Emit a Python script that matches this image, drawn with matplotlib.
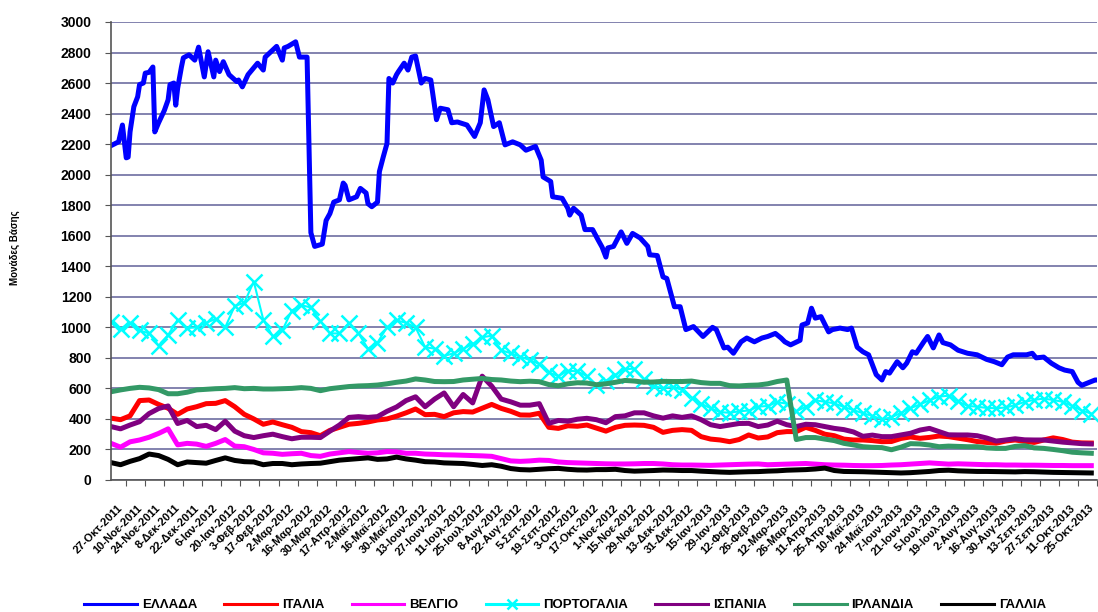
import numpy as np
import matplotlib
matplotlib.use("Agg")
import matplotlib.pyplot as plt
import matplotlib.transforms as mtransforms

plt.rcParams['font.family'] = ['Liberation Sans Narrow', 'Liberation Sans', 'DejaVu Sans']

# x tick labels (every 10th business day)
tick_labels = [
    "27-Οκτ-2011", "10-Νοε-2011", "24-Νοε-2011", "8-Δεκ-2011", "22-Δεκ-2011",
    "6-Ιαν-2012", "20-Ιαν-2012", "3-Φεβ-2012", "17-Φεβ-2012", "2-Μαρ-2012",
    "16-Μαρ-2012", "30-Μαρ-2012", "17-Απρ-2012", "2-Μαϊ-2012", "16-Μαϊ-2012",
    "30-Μαϊ-2012", "13-Ιουν-2012", "27-Ιουν-2012", "11-Ιουλ-2012", "25-Ιουλ-2012",
    "8-Αυγ-2012", "22-Αυγ-2012", "5-Σεπ-2012", "19-Σεπ-2012", "3-Οκτ-2012",
    "17-Οκτ-2012", "1-Νοε-2012", "15-Νοε-2012", "29-Νοε-2012", "13-Δεκ-2012",
    "31-Δεκ-2012", "15-Ιαν-2013", "29-Ιαν-2013", "12-Φεβ-2013", "26-Φεβ-2013",
    "12-Μαρ-2013", "26-Μαρ-2013", "11-Απρ-2013", "25-Απρ-2013", "10-Μαϊ-2013",
    "24-Μαϊ-2013", "7-Ιουν-2013", "21-Ιουν-2013", "5-Ιουλ-2013", "19-Ιουλ-2013",
    "2-Αυγ-2013", "16-Αυγ-2013", "30-Αυγ-2013", "13-Σεπ-2013", "27-Σεπ-2013",
    "11-Οκτ-2013", "25-Οκτ-2013",
]
first_label_day = 8

# weekly samples (business-day index) for most series
days = np.arange(0, 516, 5)

# Greece: read at its turning points
gr_days = [0, 4, 6, 8, 9, 10, 12, 14, 15, 17, 18, 20, 22, 23, 25, 28, 30, 31, 33, 34,
           35, 37, 38, 41, 44, 46, 49, 51, 54, 55, 57, 59, 62, 66, 67, 69, 72, 77, 80, 81,
           84, 87, 90, 91, 93, 97, 99, 103, 105, 107, 111, 113, 115, 117, 120, 122, 123, 125,
           129, 131, 134, 135, 137, 140, 141, 143, 145, 146, 148, 150, 151, 154, 156, 158,
           160, 163, 165, 168, 171, 173, 177, 179, 182, 187, 191, 194, 196, 198, 201, 204,
           207, 211, 215, 218, 223, 226, 227, 231, 232, 237, 240, 241, 243, 247, 249, 253,
           256, 258, 260, 261, 264, 268, 271, 274, 278, 282, 283, 287, 290, 292, 295, 296,
           299, 302, 306, 311, 316, 318, 322, 324, 327, 331, 334, 338, 342, 345, 349, 352,
           354, 357, 362, 363, 366, 368, 370, 373, 377, 379, 383, 387, 389, 392, 395, 398,
           400, 402, 405, 407, 409, 413, 416, 418, 421, 423, 427, 429, 432, 435, 437, 441,
           445, 450, 455, 460, 464, 468, 471, 474, 477, 481, 484, 486, 490, 494, 498, 501,
           505, 508, 510, 514, 517, 518]
greece = [2190, 2215, 2325, 2110, 2115, 2280, 2445, 2510, 2590, 2600, 2665, 2670, 2705, 2280,
          2340, 2420, 2490, 2590, 2600, 2455, 2565, 2705, 2765, 2785, 2750, 2835, 2640, 2805,
          2640, 2750, 2675, 2740, 2655, 2610, 2620, 2575, 2655, 2730, 2685, 2770, 2805, 2840,
          2750, 2830, 2840, 2870, 2770, 2770, 1620, 1530, 1545, 1700, 1745, 1820, 1835, 1945,
          1930, 1835, 1855, 1910, 1880, 1810, 1790, 1820, 2020, 2115, 2205, 2630, 2600, 2655,
          2675, 2730, 2685, 2770, 2777, 2600, 2630, 2620, 2360, 2435, 2425, 2340, 2345, 2325,
          2250, 2340, 2555, 2490, 2315, 2340, 2195, 2215, 2195, 2160, 2185, 2095, 1985, 1955,
          1855, 1845, 1780, 1735, 1780, 1735, 1640, 1640, 1570, 1525, 1460, 1520, 1530, 1625,
          1550, 1615, 1585, 1530, 1475, 1470, 1330, 1320, 1180, 1135, 1135, 985, 1005, 940,
          1000, 985, 865, 870, 830, 905, 930, 905, 930, 940, 960, 930, 905, 885, 915, 1015,
          1028, 1125, 1060, 1070, 970, 985, 995, 985, 995, 870, 840, 820, 755, 690, 655, 710,
          700, 775, 735, 765, 840, 830, 905, 940, 865, 950, 900, 885, 850, 830, 820, 790, 775,
          755, 805, 820, 820, 820, 830, 800, 805, 765, 735, 720, 710, 640, 620, 640, 655, 655]

italy = [405, 395, 420, 520, 524, 495, 470, 430, 465, 480, 500, 502, 520, 480, 430, 400, 365,
         380, 362, 345, 317, 310, 290, 325, 345, 365, 371, 380, 393, 400, 418, 440, 465, 428,
         430, 415, 440, 448, 445, 470, 495, 469, 450, 426, 425, 437, 345, 338, 355, 352, 360,
         340, 320, 345, 358, 360, 358, 345, 312, 325, 330, 325, 284, 268, 262, 251, 265, 295,
         275, 282, 310, 317, 317, 345, 325, 300, 290, 268, 262, 262, 258, 251, 252, 272, 282,
         273, 279, 288, 284, 274, 264, 252, 246, 241, 255, 262, 253, 246, 262, 276, 265, 248,
         243, 242]
belgium = [240, 215, 250, 262, 280, 305, 335, 230, 240, 235, 220, 240, 265, 222, 218, 200, 178,
           175, 168, 172, 175, 160, 155, 170, 178, 186, 180, 175, 178, 186, 184, 175, 175, 170,
           168, 165, 164, 162, 160, 158, 155, 140, 125, 122, 125, 130, 128, 118, 114, 112, 110,
           108, 106, 105, 105, 106, 108, 108, 105, 100, 98, 98, 97, 96, 98, 100, 102, 104, 105,
           100, 102, 104, 106, 108, 104, 100, 98, 97, 95, 94, 94, 95, 98, 100, 104, 108, 112,
           108, 104, 106, 104, 102, 100, 100, 98, 98, 97, 97, 96, 95, 95, 94, 94, 94]
portugal = [1035, 990, 1030, 980, 960, 880, 950, 1050, 995, 1000, 1030, 1055, 1000, 1140, 1160,
            1300, 1050, 940, 980, 1110, 1145, 1130, 1040, 960, 960, 1030, 960, 860, 900, 1000,
            1045, 1030, 1000, 870, 860, 812, 830, 860, 890, 935, 945, 850, 830, 808, 785, 760,
            705, 680, 715, 712, 680, 620, 650, 690, 725, 730, 660, 615, 602, 610, 590, 540, 500,
            470, 445, 440, 450, 455, 480, 485, 510, 500, 450, 480, 522, 512, 502, 478, 458, 437,
            420, 398, 410, 440, 470, 495, 522, 546, 552, 515, 485, 480, 472, 470, 475, 490, 512,
            525, 533, 524, 512, 485, 455, 435]
spain = [350, 335, 360, 382, 435, 468, 485, 370, 390, 350, 358, 330, 385, 320, 290, 278, 290,
         300, 284, 270, 280, 280, 278, 320, 360, 410, 415, 410, 415, 450, 478, 520, 545, 480,
         530, 570, 480, 560, 505, 680, 615, 530, 512, 490, 490, 500, 371, 390, 385, 398, 404,
         395, 375, 415, 420, 440, 440, 420, 405, 420, 410, 420, 395, 362, 350, 360, 370, 371,
         350, 360, 385, 362, 350, 365, 362, 350, 338, 330, 315, 286, 294, 284, 284, 295, 306,
         327, 338, 317, 296, 295, 295, 290, 275, 255, 262, 270, 263, 262, 262, 255, 248, 243,
         238, 236]
ireland = [578, 590, 600, 607, 603, 592, 565, 565, 575, 590, 594, 598, 600, 605, 598, 600, 596,
           596, 598, 600, 605, 600, 585, 598, 605, 612, 616, 618, 622, 630, 640, 648, 662, 655,
           645, 644, 645, 655, 660, 665, 658, 655, 648, 644, 647, 644, 625, 617, 630, 637, 635,
           624, 630, 640, 652, 648, 640, 642, 646, 645, 645, 648, 638, 633, 633, 618, 616, 620,
           622, 630, 645, 655, 265, 278, 278, 268, 258, 240, 230, 218, 214, 212, 198, 215, 238,
           236, 229, 218, 222, 220, 218, 218, 210, 207, 207, 220, 225, 210, 207, 200, 192, 182,
           178, 175]
france = [114, 100, 122, 140, 170, 160, 135, 100, 118, 114, 110, 128, 145, 128, 120, 118, 100,
          108, 108, 100, 105, 108, 110, 120, 130, 135, 140, 145, 135, 138, 150, 138, 130, 120,
          118, 112, 110, 108, 102, 95, 100, 90, 75, 68, 66, 70, 74, 76, 70, 66, 65, 68, 68, 70,
          62, 58, 60, 62, 65, 64, 62, 62, 58, 55, 52, 50, 52, 54, 55, 58, 60, 64, 66, 68, 72,
          78, 62, 56, 55, 54, 52, 50, 48, 46, 48, 52, 56, 62, 64, 60, 58, 56, 56, 55, 54, 53,
          55, 54, 52, 50, 49, 48, 47, 46]

fig = plt.figure(figsize=(10.98, 6.12), dpi=100)
ax = fig.add_axes([0.1011, 0.2157, 0.898, 0.7484])

lw = 3.6
ax.plot(gr_days, greece, color="#0000FF", lw=lw, label="ΕΛΛΑΔΑ")
ax.plot(days, italy, color="#FF0000", lw=lw, label="ΙΤΑΛΙΑ")
ax.plot(days, belgium, color="#FF00FF", lw=lw, label="ΒΕΛΓΙΟ")
ax.plot(days, portugal, color="#00FFFF", lw=1.5, marker="x", ms=11, mew=1.8,
        label="ΠΟΡΤΟΓΑΛΙΑ")
ax.plot(days, spain, color="#800080", lw=lw, label="ΙΣΠΑΝΙΑ")
ax.plot(days, ireland, color="#339966", lw=lw, label="ΙΡΛΑΝΔΙΑ")
ax.plot(days, france, color="#000000", lw=lw, label="ΓΑΛΛΙΑ")

ax.set_xlim(0, 518)
ax.set_ylim(0, 3000)
ax.set_yticks(np.arange(0, 3001, 200))
ax.yaxis.grid(True, color="#7878a8", lw=1.3)
ax.set_axisbelow(True)

ticks = first_label_day + 10 * np.arange(len(tick_labels))
ax.set_xticks(ticks)
ax.set_xticklabels(tick_labels, rotation=45, ha="right", va="center",
                   rotation_mode="anchor", fontsize=8, fontweight="bold")
ax.tick_params(axis="x", length=4, pad=15, color="#555555")
ax.tick_params(axis="y", length=4, pad=10, labelsize=10, color="#555555")
for t in ax.get_yticklabels():
    t.set_fontweight("bold")
# shift the rotated date labels a few pixels left of their ticks
shift = mtransforms.ScaledTranslation(-5 / 100, 0, fig.dpi_scale_trans)
for t in ax.get_xticklabels():
    t.set_transform(t.get_transform() + shift)

for s in ["top", "right"]:
    ax.spines[s].set_visible(False)
for s in ["left", "bottom"]:
    ax.spines[s].set_color("#555555")
    ax.spines[s].set_linewidth(1.2)

fig.text(15 / 1098, 1 - 248 / 612, "Μονάδες Βάσης", rotation=90, ha="center",
         va="center", fontsize=7, fontweight="bold")

leg = fig.legend(loc="center", ncol=7, bbox_to_anchor=(565 / 1098, 1 - 605 / 612),
                 frameon=False, handlelength=4.0, handletextpad=0.38, columnspacing=2.05,
                 prop={"family": ["Liberation Sans", "DejaVu Sans"], "weight": "bold",
                       "size": 9.5})
for h in leg.get_lines():
    h.set_linewidth(2.2)
    h.set_markersize(7)

fig.savefig("out.png", dpi=100)
